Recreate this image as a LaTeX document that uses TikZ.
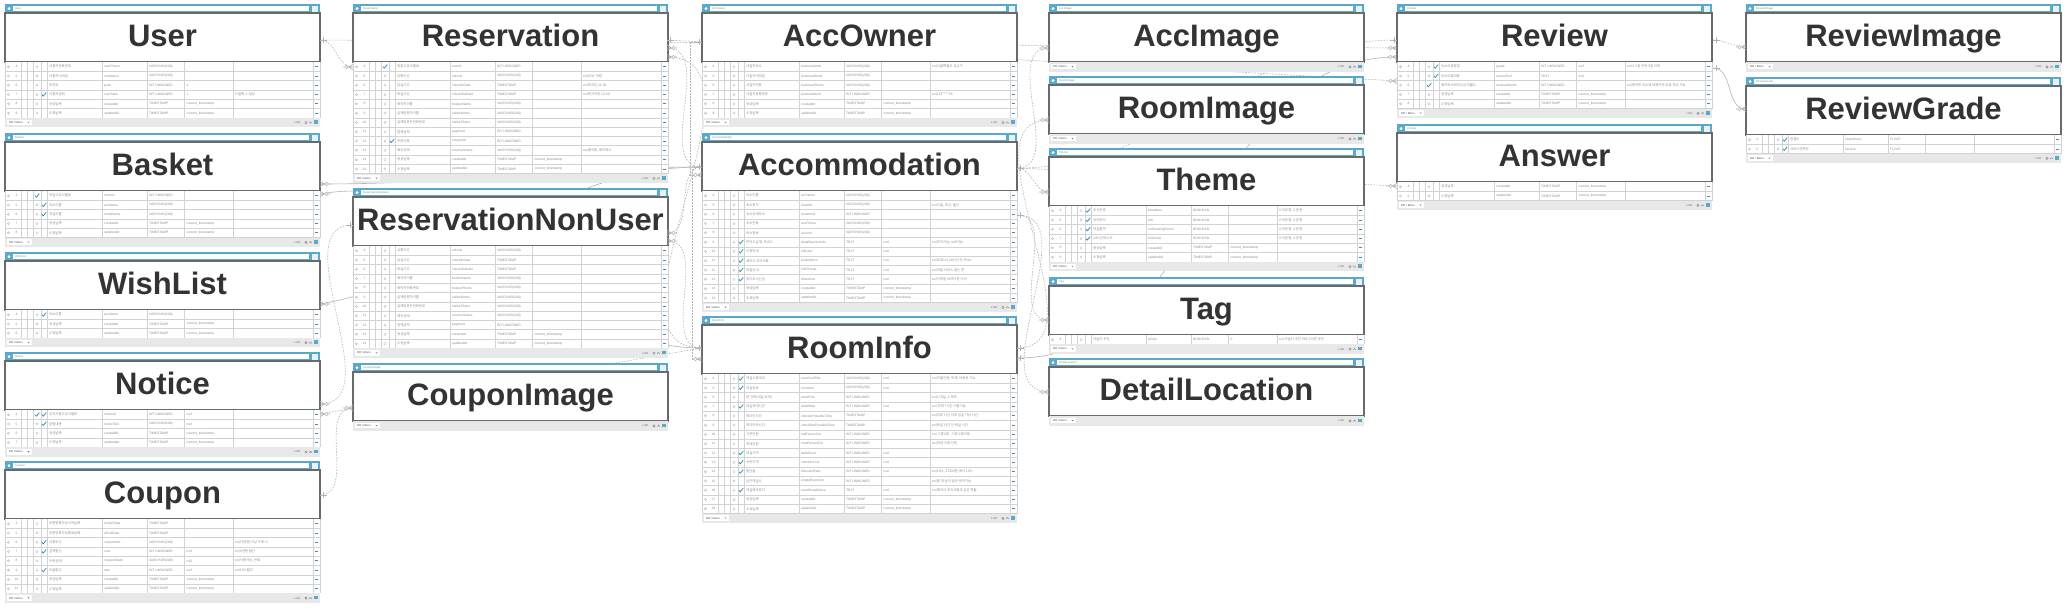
\documentclass[tikz,border=0pt]{standalone}
\usepackage{fontspec}
\setmainfont{Liberation Sans}
\newfontfamily\kofont{Noto Sans CJK KR}
\usetikzlibrary{calc}
\definecolor{hdrc}{HTML}{5AA9C9}
\definecolor{ttlc}{HTML}{333333}
\definecolor{brdc}{HTML}{6A6A6A}
\definecolor{gridc}{HTML}{D2D2D2}
\definecolor{footc}{HTML}{E8E8E8}
\definecolor{rtxt}{HTML}{8C8C8C}
\definecolor{chkc}{HTML}{3C8FB8}
\definecolor{connc}{HTML}{B4B4B4}
\tikzset{
 conn/.style={draw=connc, line width=0.6pt, dash pattern=on 1.6pt off 1.4pt},
 connsolid/.style={draw=connc, line width=0.6pt},
 rt/.style={font=\fontsize{3.3}{4}\selectfont, text=rtxt, inner sep=0pt},
 re/.style={rt, anchor=west},
 rk/.style={font=\kofont\fontsize{3.4}{4}\selectfont, text=rtxt, inner sep=0pt, anchor=west},
 ttlf/.style={font=\fontsize{31}{31}\selectfont\bfseries, text=ttlc, inner sep=0pt, anchor=base},
 onem/.pic={\draw[connc, line width=0.6pt] (0,0) -- (7,0) (3,-2.8) -- (3,2.8);},
 manym/.pic={\draw[connc, line width=0.6pt] (0,-2.8) -- (4.5,0) -- (0,2.8) (0,0) -- (4.5,0) (8.3,0) -- (10,0); \draw[connc, line width=0.6pt, fill=white] (6.5,0) circle (1.8);},
}
% #1 id, #2 x0, #3 ytop, #4 title, #5 nrows, #6 rows
\newcommand{\ERtable}[6]{%
\begin{scope}
\pgfmathsetmacro{\tx}{#2}
\pgfmathsetmacro{\tyt}{#3}
\pgfmathsetmacro{\yb}{#3+58}
\pgfmathsetmacro{\yf}{#3+58+#5*9.3}
% header
\fill[hdrc] (\tx,\tyt) rectangle (\tx+315,\tyt+9);
\fill[white] (\tx+8,\tyt+2) rectangle (\tx+304,\tyt+7.3);
\fill[white!85!hdrc] (\tx+306.5,\tyt+1.8) rectangle (\tx+312.5,\tyt+7.5);
\fill[white] (\tx+4,\tyt+4.6) circle (1.6);
\node[re, font=\fontsize{2.8}{3}\selectfont, text=black!45] at (\tx+10,\tyt+4.7) {#4};
% title
\draw[brdc, line width=1.1pt, fill=white] (\tx,\tyt+9) rectangle (\tx+315,\tyt+58);
\node[ttlf] (#1) at (\tx+157.5,\tyt+42.5) {#4};
% rows
\ifnum#5>0
\fill[white] (\tx,\yb) rectangle (\tx+315,\yf);
\foreach \n/\fa/\fb/\ko/\en/\tp/\df/\cm [count=\i from 0] in {#6} {
 \pgfmathsetmacro{\yr}{\yb+\i*9.3}
 \pgfmathsetmacro{\yc}{\yr+4.65}
 \draw[gridc, line width=0.5pt] (\tx,\yr+9.3) -- (\tx+315,\yr+9.3);
 \foreach \c in {0,16,22,28,36,42,97,142,179,228,308,315}
   \draw[gridc, line width=0.5pt] (\tx+\c,\yr) -- (\tx+\c,\yr+9.3);
 \draw[gray!55, line width=0.4pt] (\tx+3.5,\yc) circle (1.1);
 \node[rt] at (\tx+11.5,\yc) {\n};
 \ifnum\fa=1
   \draw[chkc, line width=0.8pt] (\tx+29.8,\yc) -- (\tx+31.3,\yc+1.5) -- (\tx+34.3,\yc-2);
 \else
   \draw[gray!45, line width=0.4pt] (\tx+32,\yc) circle (1.2);
 \fi
 \ifnum\fb=1
   \draw[chkc, line width=0.8pt] (\tx+36.8,\yc) -- (\tx+38.3,\yc+1.5) -- (\tx+41.2,\yc-2);
 \fi
 \node[rk] at (\tx+44,\yc) {\ko};
 \node[re] at (\tx+99,\yc) {\en};
 \node[re] at (\tx+144,\yc) {\tp};
 \node[re] at (\tx+181.5,\yc) {\df};
 \node[rk] at (\tx+230,\yc) {\cm};
 \draw[chkc, line width=0.9pt] (\tx+309.6,\yc) -- (\tx+313.4,\yc);
}
\fi
% footer
\fill[footc] (\tx,\yf) rectangle (\tx+315,\yf+9.5);
\fill[white] (\tx+2,\yf+1.8) rectangle (\tx+27,\yf+7.4);
\node[re, font=\fontsize{2.8}{3}\selectfont, text=black!70] at (\tx+4,\yf+4.6) {RO / Menu};
\fill[black!55] (\tx+22.5,\yf+4) -- (\tx+24.5,\yf+4) -- (\tx+23.5,\yf+5.2) -- cycle;
\node[re, font=\fontsize{2.8}{3}\selectfont, text=black!60] at (\tx+289,\yf+4.8) {x UD};
\draw[black!50, line width=0.4pt] (\tx+301,\yf+4.8) circle (1.2);
\draw[black!50, line width=0.4pt] (\tx+304,\yf+5.6) -- (\tx+305.5,\yf+4) -- (\tx+307,\yf+5.6);
\fill[hdrc] (\tx+309,\yf+2.5) rectangle (\tx+312.5,\yf+6);
\end{scope}}

\begin{document}
\begin{tikzpicture}[x=1pt,y=-1pt]
\fill[white] (0,0) rectangle (2069,613);
\useasboundingbox (0,0) rectangle (2069,613);

% ---------- connector end points ----------
\coordinate (uR) at (320,40);
\coordinate (rsvL) at (353,67);
\coordinate (rsvR1) at (667,40);
\coordinate (rsvR2) at (667,48);
\coordinate (rsvR3) at (667,57);
\coordinate (bkR1) at (320,184);
\coordinate (bkR2) at (320,194);
\coordinate (wlR) at (320,304);
\coordinate (ntR1) at (320,404);
\coordinate (ntR2) at (320,414);
\coordinate (cpR) at (320,495);
\coordinate (rnL) at (353,225);
\coordinate (rnR1) at (667,233);
\coordinate (rnR2) at (667,241);
\coordinate (ciL) at (353,408);
\coordinate (aoL) at (702,42);
\coordinate (acL1) at (702,167);
\coordinate (acL2) at (702,175);
\coordinate (acR1) at (1017,168);
\coordinate (acR2) at (1017,215);
\coordinate (riL1) at (702,348);
\coordinate (riL2) at (702,359);
\coordinate (riR1) at (1017,348);
\coordinate (riR2) at (1017,358);
\coordinate (aiL) at (1049,48);
\coordinate (rmL) at (1049,120);
\coordinate (thL) at (1049,192);
\coordinate (tgL) at (1049,320);
\coordinate (dlL) at (1049,392);
\coordinate (rvL1) at (1397,40);
\coordinate (rvL2) at (1397,48);
\coordinate (rvL3) at (1397,57);
\coordinate (rvL4) at (1397,81);
\coordinate (rvR1) at (1713,40);
\coordinate (rvR2) at (1713,68);
\coordinate (anL) at (1397,186);
\coordinate (rimL) at (1746,47);
\coordinate (rgL) at (1746,109);

% ---------- connectors (behind tables) ----------
\draw[conn] (uR) to[out=0,in=180] (rsvL);
\draw[conn] (uR) -- (rvL2);
\draw[conn] (cpR) to[out=0,in=180] (ciL);
\draw[conn] (rnL) to[out=180,in=0] (ntR1);
\draw[conn] (ntR2) -- (riL1);
\draw[connsolid] (bkR1) to[out=0,in=180] (acL1);
\draw[connsolid] (bkR2) to[out=10,in=180] (riL1);
\draw[connsolid] (wlR) to[out=10,in=180] (acL1);
\draw[conn] (aoL) -| ($(acL2)+(-12,0)$) -- (acL2);
\draw[conn] (acL1) -| ($(riL2)+(-10,0)$) -- (riL2);
\draw[conn] (rsvR2) to[out=0,in=180] (acL1);
\draw[conn] (rsvR3) to[out=0,in=180] (riL1);
\draw[conn] (rnR1) to[out=0,in=180] (acL1);
\draw[conn] (rnR2) to[out=0,in=180] (riL1);
\draw[conn] (rsvR1) -- (rvL4);
\draw[conn] (acR1) to[out=0,in=180] (aiL);
\draw[conn] (acR1) to[out=0,in=180] (thL);
\draw[conn] (acR2) to[out=0,in=180] (tgL);
\draw[conn] (acR2) to[out=0,in=180] (dlL);
\draw[conn] (riR1) to[out=0,in=180] (rmL);
\draw[connsolid] (riR2) to[out=0,in=180] (rvL3);
\draw[conn] (acR1) to[out=0,in=180] (rvL1);
\draw[conn] (acR1) -- (anL);
\draw[conn] (rvR1) to[out=0,in=180] (rimL);
\draw[connsolid] (rvR2) to[out=0,in=180] (rgL);

% ---------- column 1 ----------
\ERtable{user}{5}{4}{User}{6}{
4/0/0/사용자전화번호/userPhone/VARCHAR(200)/{}/{},
5/0/0/사용자닉네임/nickName/VARCHAR(200)/{}/{},
6/0/0/포인트/point/INT UNSIGNED/0/{},
7/0/1/사용자상태/userState/INT UNSIGNED/1/{0:탈퇴, 1:정상},
8/0/0/생성날짜/createdAt/TIMESTAMP/current\_timestamp/{},
9/0/0/수정날짜/updatedAt/TIMESTAMP/current\_timestamp/{}}
\ERtable{basket}{5}{133}{Basket}{5}{
4/1/0/객실고유식별ID/roomId/INT UNSIGNED/{}/{},
5/0/1/숙소이름/accName/VARCHAR(200)/{}/{},
6/0/1/객실이름/roomName/VARCHAR(200)/{}/{},
7/0/0/생성날짜/createdAt/TIMESTAMP/current\_timestamp/{},
8/0/0/수정날짜/updatedAt/TIMESTAMP/current\_timestamp/{}}
\ERtable{wish}{5}{252}{WishList}{3}{
4/0/1/숙소이름/accName/VARCHAR(200)/{}/{},
5/0/0/생성날짜/createdAt/TIMESTAMP/current\_timestamp/{},
6/0/0/수정날짜/updatedAt/TIMESTAMP/current\_timestamp/{}}
\ERtable{notice}{5}{352}{Notice}{4}{
4/1/1/공지사항고유식별ID/noticeId/INT UNSIGNED/null/{},
5/0/1/알림내용/noticeText/VARCHAR(200)/null/{},
6/0/0/생성날짜/createdAt/TIMESTAMP/current\_timestamp/{},
7/0/0/수정날짜/updatedAt/TIMESTAMP/current\_timestamp/{}}
\ERtable{coupon}{5}{461}{Coupon}{8}{
4/0/0/쿠폰등록가능시작날짜/isStartDate/TIMESTAMP/{}/{},
5/0/0/쿠폰등록가능종료날짜/isEndDate/TIMESTAMP/{}/{},
6/0/1/사용조건/couponInfo/VARCHAR(200)/{}/{ex)70만원 이상 구매 시},
7/0/1/금액할인/cost/INT UNSIGNED/null/{ex)3만원 할인},
8/0/0/쿠폰상태/couponState/VARCHAR(200)/null/{ex)사용가능, 만료},
9/0/1/비율할인/rate/INT UNSIGNED/null/{ex)10\%할인},
10/0/0/생성날짜/createdAt/TIMESTAMP/current\_timestamp/{},
11/0/0/수정날짜/updatedAt/TIMESTAMP/current\_timestamp/{}}

% ---------- column 2 ----------
\ERtable{reservation}{353}{4}{Reservation}{12}{
4/1/0/회원고유식별ID/userId/INT UNSIGNED/{}/{},
5/0/0/교통수단/vehicle/VARCHAR(200)/{}/{ex)도보, 차량},
6/0/0/입실시간/checkInDate/TIMESTAMP/{}/{ex)체크인 21:00},
7/0/0/퇴실시간/checkOutDate/TIMESTAMP/{}/{ex)체크아웃 12:00},
8/0/0/예약자이름/bookerName/VARCHAR(200)/{}/{},
9/0/0/실제방문자이름/visitorName/VARCHAR(200)/{}/{},
10/0/0/실제방문자전화번호/visitorPhone/VARCHAR(200)/{}/{},
11/0/0/결제금액/payment/INT UNSIGNED/{}/{},
12/0/1/쿠폰사용/couponId/INT UNSIGNED/{}/{},
13/0/0/예약상태/reserveStatus/VARCHAR(200)/{}/{ex)예약중, 예약취소},
14/0/0/생성날짜/createdAt/TIMESTAMP/current\_timestamp/{},
15/0/0/수정날짜/updatedAt/TIMESTAMP/current\_timestamp/{}}
\ERtable{resnon}{353}{188}{ReservationNonUser}{11}{
4/0/0/교통수단/vehicle/VARCHAR(200)/{}/{},
5/0/0/입실시간/checkInDate/TIMESTAMP/{}/{},
6/0/0/퇴실시간/checkOutDate/TIMESTAMP/{}/{},
7/0/0/예약자이름/bookerName/VARCHAR(200)/{}/{},
8/0/0/예약자전화번호/bookerPhone/VARCHAR(200)/{}/{},
9/0/0/실제방문자이름/visitorName/VARCHAR(200)/{}/{},
10/0/0/실제방문자전화번호/visitorPhone/VARCHAR(200)/{}/{},
11/0/0/예약상태/reserveStatus/VARCHAR(200)/{}/{},
12/0/0/결제금액/payment/INT UNSIGNED/{}/{},
13/0/0/생성날짜/createdAt/TIMESTAMP/current\_timestamp/{},
14/0/0/수정날짜/updatedAt/TIMESTAMP/current\_timestamp/{}}
\ERtable{couponimg}{353}{363}{CouponImage}{0}{}

% ---------- column 3 ----------
\ERtable{accowner}{702}{4}{AccOwner}{6}{
4/0/0/사업자주소/businessAddr/VARCHAR(200)/{}/{ex)서울특별시 강남구~},
5/0/0/사업자이메일/businessEmail/VARCHAR(200)/{}/{},
6/0/0/사업자전화/businessPhone/VARCHAR(200)/{}/{},
7/0/0/사업자등록번호/businessNum/INT UNSIGNED/{}/{ex)123****56},
8/0/0/생성날짜/createdAt/TIMESTAMP/current\_timestamp/{},
9/0/0/수정날짜/updatedAt/TIMESTAMP/current\_timestamp/{}}
\ERtable{accom}{702}{133}{Accommodation}{12}{
4/0/0/숙소이름/accName/VARCHAR(200)/{}/{},
5/0/0/숙소위치/location/VARCHAR(200)/{}/{ex)서울, 부산, 울산},
6/0/0/숙소상세주소/locationId/INT UNSIGNED/{}/{},
7/0/0/숙소전화/accPhone/VARCHAR(200)/{}/{},
8/0/0/숙소정보/accInfo/VARCHAR(200)/{}/{},
9/0/1/편의시설 및 서비스/detailServiceInfo/TEXT/null/{ex)주차가능, wifi가능},
10/0/1/이용안내/infoUse/TEXT/null/{},
11/0/1/예약시 주의사항/bookNotice/TEXT/null/{ex)오후1시 24시간 전 취소x},
12/0/1/픽업안내/infoPickup/TEXT/null/{ex)픽업 서비스 없는 편},
13/0/1/찾아오시는길/directions/TEXT/null/{ex)지하철 00역 5분 거리},
14/0/0/생성날짜/createdAt/TIMESTAMP/current\_timestamp/{},
15/0/0/수정날짜/updatedAt/TIMESTAMP/current\_timestamp/{}}
\ERtable{roominfo}{702}{316}{RoomInfo}{15}{
4/0/1/객실사용대상/roomSubTitle/VARCHAR(200)/null/{ex)커플전용, 독채, 바베큐 가능},
5/0/1/객실정보/roomInfo/VARCHAR(200)/null/{},
6/0/0/{한 건씩(대실,숙박)}/roomPick/INT UNSIGNED/{}/{ex)1:대실, 2:숙박},
7/0/1/대실최대시간/dantilMax/INT UNSIGNED/null/{ex) 최대 7시간 이용가능},
8/0/0/체크인시간/checkInPossibleTime/TIMESTAMP/{}/{ex)최초 시간 이후 입실 가능 시간},
9/0/0/체크아웃시간/checkOutPossibleTime/TIMESTAMP/{}/{ex)퇴실 시간 전 퇴실 시간},
10/0/0/기준인원/stdPersonCnt/INT UNSIGNED/{}/{ex) 기준2명 : 기준 2명이용},
11/0/0/최대인원/maxPersonCnt/INT UNSIGNED/{}/{ex)최대 수용 인원},
12/0/1/대실가격/dantilCost/INT UNSIGNED/null/{},
13/0/1/숙박가격/checkInCost/INT UNSIGNED/null/{},
14/0/1/할인율/discountRate/INT UNSIGNED/null/{ex)10\%, 17000원 에서 10\%},
15/0/0/남은객실수/emptyRoomCnt/INT UNSIGNED/{}/{ex)몇 개 남지 않은 예약가능},
16/0/1/객실예약공지/roomBookNotice/TEXT/null/{ex)예약시 주의사항과 같은 역할},
17/0/0/생성날짜/createdAt/TIMESTAMP/current\_timestamp/{},
18/0/0/수정날짜/updatedAt/TIMESTAMP/current\_timestamp/{}}

% ---------- column 4 ----------
\ERtable{accimg}{1049}{4}{AccImage}{0}{}
\ERtable{roomimg}{1049}{76}{RoomImage}{0}{}
\ERtable{theme}{1049}{148}{Theme}{6}{
4/0/1/조식운영/breakfast/BOOLEAN/{}/{0:미운영, 1:운영},
5/0/1/와이파이/wifi/BOOLEAN/{}/{0:미운영, 1:운영},
6/0/1/객실흡연/noSmokingRoom/BOOLEAN/{}/{0:미운영, 1:운영},
7/0/1/24시간데스크/h24Desk/BOOLEAN/{}/{0:미운영, 1:운영},
8/0/0/생성날짜/createdAt/TIMESTAMP/current\_timestamp/{},
9/0/0/수정날짜/updatedAt/TIMESTAMP/current\_timestamp/{}}
\ERtable{tag}{1049}{277}{Tag}{1}{
4/0/0/야놀자 추천/pCam/BOOLEAN/0/{ex) 야놀자 추천 여부 1이면 추천}}
\ERtable{detailloc}{1049}{358}{DetailLocation}{0}{}

% ---------- column 5 ----------
\ERtable{review}{1397}{4}{Review}{5}{
4/0/1/숙소리뷰평점/grade/INT UNSIGNED/null/{ex) 0.5점 단위 5점 이하},
5/0/1/숙소리뷰내용/reviewText/TEXT/null/{},
6/1/0/예약숙소예약고유식별ID/reservationIdx/INT UNSIGNED/{}/{ex)예약한 숙소에 대해서만 리뷰 작성 가능},
7/0/0/생성날짜/createdAt/TIMESTAMP/current\_timestamp/{},
8/0/0/수정날짜/updatedAt/TIMESTAMP/current\_timestamp/{}}
\ERtable{answer}{1397}{124}{Answer}{2}{
4/0/0/생성날짜/createdAt/TIMESTAMP/current\_timestamp/{},
5/0/0/수정날짜/updatedAt/TIMESTAMP/current\_timestamp/{}}

% ---------- column 6 ----------
\ERtable{reviewimg}{1746}{4}{ReviewImage}{0}{}
\ERtable{reviewgrade}{1746}{77}{ReviewGrade}{2}{
4/0/1/청결도/cleanliness/FLOAT/{}/{},
5/0/1/서비스만족도/service/FLOAT/{}/{}}

% ---------- connector end markers ----------
\pic at (uR) {onem};
\pic[xscale=-1] at (rsvL) {manym};
\pic at (rsvR1) {onem};
\pic at (rsvR2) {manym};
\pic at (rsvR3) {manym};
\pic at (bkR1) {manym};
\pic at (bkR2) {manym};
\pic at (wlR) {manym};
\pic at (ntR1) {manym};
\pic at (ntR2) {manym};
\pic at (cpR) {onem};
\pic[xscale=-1] at (rnL) {onem};
\pic at (rnR1) {manym};
\pic at (rnR2) {manym};
\pic[xscale=-1] at (ciL) {manym};
\pic[xscale=-1] at (aoL) {onem};
\pic[xscale=-1] at (acL1) {onem};
\pic[xscale=-1] at (acL2) {manym};
\pic at (acR1) {onem};
\pic at (acR2) {onem};
\pic[xscale=-1] at (riL1) {onem};
\pic[xscale=-1] at (riL2) {manym};
\pic at (riR1) {onem};
\pic at (riR2) {onem};
\pic[xscale=-1] at (aiL) {manym};
\pic[xscale=-1] at (rmL) {manym};
\pic[xscale=-1] at (thL) {manym};
\pic[xscale=-1] at (tgL) {manym};
\pic[xscale=-1] at (dlL) {manym};
\pic[xscale=-1] at (rvL1) {onem};
\pic[xscale=-1] at (rvL2) {manym};
\pic[xscale=-1] at (rvL3) {manym};
\pic[xscale=-1] at (rvL4) {manym};
\pic at (rvR1) {onem};
\pic at (rvR2) {onem};
\pic[xscale=-1] at (anL) {manym};
\pic[xscale=-1] at (rimL) {manym};
\pic[xscale=-1] at (rgL) {manym};
\end{tikzpicture}
\end{document}
